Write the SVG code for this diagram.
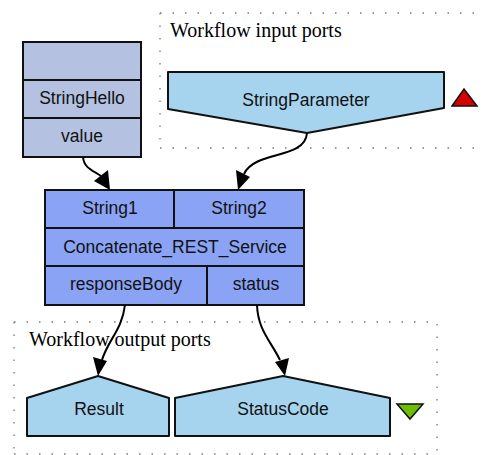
<svg xmlns="http://www.w3.org/2000/svg" width="482" height="455" viewBox="0 0 482 455">
<style>
.cluster{fill:none;stroke:#777;stroke-width:1.3;stroke-dasharray:1.5 11}
.ctitle{font-family:"Liberation Serif",serif;font-size:20px;fill:#000}
.lbl{font-family:"Liberation Sans",Arial,sans-serif;font-size:17.5px;fill:#111;text-anchor:middle}
.proc{fill:#b4c1e1;stroke:#111;stroke-width:2}
.svc{fill:#8aa3f5;stroke:#111;stroke-width:2}
.port{fill:#a6d4ef;stroke:#111;stroke-width:2;stroke-linejoin:round}
.edge{fill:none;stroke:#000;stroke-width:2}
.div{stroke:#111;stroke-width:2}
</style>
<g id="cluster-inputs">
<path class="cluster" d="M160,13 H482 M160,148 H482 M160,13 V148"/>
<text class="ctitle" x="170" y="37">Workflow input ports</text>
</g>
<g id="cluster-outputs">
<path class="cluster" d="M14,322 H437 V454 M14,454 H437 M14,322 V454"/>
<text class="ctitle" x="29" y="346">Workflow output ports</text>
</g>
<g id="StringHello">
<rect class="proc" x="23" y="42" width="118" height="115"/>
<line class="div" x1="23" y1="80" x2="141" y2="80"/>
<line class="div" x1="23" y1="118" x2="141" y2="118"/>
<text class="lbl" x="82" y="104">StringHello</text>
<text class="lbl" x="82" y="142">value</text>
</g>
<g id="StringParameter">
<polygon class="port" points="168,72 444,72 444,108 307,133 168,109"/>
<text class="lbl" x="306" y="106">StringParameter</text>
<polygon points="452,106 464,89 477,106" fill="#d60000" stroke="#111" stroke-width="1.5"/>
</g>
<g id="Concatenate_REST_Service">
<rect class="svc" x="45" y="190" width="259" height="115"/>
<line class="div" x1="45" y1="228" x2="304" y2="228"/>
<line class="div" x1="45" y1="266" x2="304" y2="266"/>
<line class="div" x1="174" y1="190" x2="174" y2="228"/>
<line class="div" x1="207" y1="266" x2="207" y2="305"/>
<text class="lbl" x="110" y="214">String1</text>
<text class="lbl" x="239" y="214">String2</text>
<text class="lbl" x="175" y="253">Concatenate_REST_Service</text>
<text class="lbl" x="126" y="290">responseBody</text>
<text class="lbl" x="256" y="290">status</text>
</g>
<g id="Result">
<polygon class="port" points="27,398 98,376 169,398 169,436 27,436"/>
<text class="lbl" x="99" y="415">Result</text>
</g>
<g id="StatusCode">
<polygon class="port" points="175,398 283,376 390,398 390,436 175,436"/>
<text class="lbl" x="283" y="415">StatusCode</text>
<polygon points="397,404 423,404 410,419" fill="#6cc000" stroke="#111" stroke-width="1.5"/>
</g>
<g id="connectors">
<path class="edge" d="M83,157 C84,168 92,170 101,176"/>
<polygon points="94,181 108,170 110,190" fill="#000"/>
<path class="edge" d="M307,133 C305,160 255,150 244,174"/>
<polygon points="236,170 250,177 238,190" fill="#000"/>
<path class="edge" d="M125,305 C122,330 108,340 102,360"/>
<polygon points="93,357 107,361 98,376" fill="#000"/>
<path class="edge" d="M257,305 C258,330 270,340 280,360"/>
<polygon points="275,362 289,358 285,376" fill="#000"/>
</g>
</svg>
